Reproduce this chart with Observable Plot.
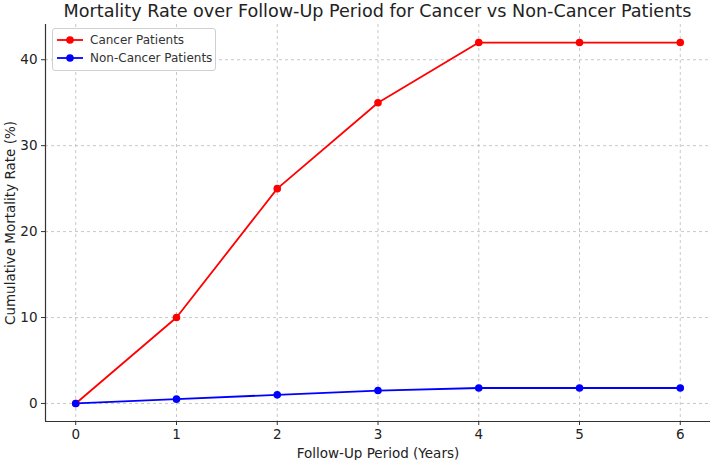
<!DOCTYPE html>
<html><head><meta charset="utf-8">
<script src="https://cdn.jsdelivr.net/npm/d3@7"></script>
<script src="https://cdn.jsdelivr.net/npm/@observablehq/plot@0.6"></script>
<style>
body{margin:0;background:#fff;font-family:"DejaVu Sans",sans-serif;}
#wrap{position:relative;width:720px;height:460px;overflow:hidden;}
#title{height:22px;line-height:22px;padding-left:45px;width:665px;text-align:center;font-size:17.6px;color:#222;white-space:nowrap;}
#legend{position:absolute;left:52px;top:28px;width:162px;height:41px;border:1px solid #d0d0d0;border-radius:3px;background:rgba(255,255,255,0.9);font-size:12px;color:#333;}
.row{position:absolute;left:4px;height:16px;line-height:16px;}
.row svg{position:absolute;left:0;top:0;}
.row span{position:absolute;left:33px;white-space:nowrap;}
</style></head>
<body><div id="wrap"><div id="title">Mortality Rate over Follow-Up Period for Cancer vs Non-Cancer Patients</div>
<div id="chart"></div>
<div id="legend"></div>
</div>
<script>
const years = [0, 1, 2, 3, 4, 5, 6];
const cancer = [0, 10, 25, 35, 42, 42, 42];
const nonCancer = [0, 0.5, 1.0, 1.5, 1.8, 1.8, 1.8];
const seriesNames = ["Cancer Patients", "Non-Cancer Patients"];
const seriesColors = ["#ff0000", "#0000ff"];
const xTicks = [0, 1, 2, 3, 4, 5, 6];
const yTicks = [0, 10, 20, 30, 40];
const xDomain = [-0.3, 6.3];
const yDomain = [-2.1, 44.1];

const data = [];
years.forEach((y, i) => {
  data.push({year: y, value: cancer[i], series: seriesNames[0]});
  data.push({year: y, value: nonCancer[i], series: seriesNames[1]});
});

const plot = Plot.plot({
  width: 720, height: 438,
  marginTop: 2, marginBottom: 39, marginLeft: 45, marginRight: 10,
  style: {fontFamily: "DejaVu Sans, sans-serif", fontSize: "13.5px", color: "#222", background: "#fff"},
  x: {domain: xDomain},
  y: {domain: yDomain},
  color: {domain: seriesNames, range: seriesColors},
  marks: [
    Plot.gridX(xTicks, {stroke: "#b0b0b0", strokeOpacity: 0.7, strokeDasharray: "3,3"}),
    Plot.gridY(yTicks, {stroke: "#b0b0b0", strokeOpacity: 0.7, strokeDasharray: "3,3"}),
    Plot.ruleX([xDomain[0]], {stroke: "#333", strokeWidth: 1.2}),
    Plot.ruleY([yDomain[0]], {stroke: "#333", strokeWidth: 1.2}),
    Plot.axisX({ticks: xTicks, tickFormat: "d", tickSize: 4, tickPadding: 4, stroke: "#333", label: "Follow-Up Period (Years)", labelAnchor: "center", labelArrow: "none", labelOffset: 36, fontSize: 13.5}),
    Plot.axisY({ticks: yTicks, tickFormat: "d", tickSize: 4, tickPadding: 4, stroke: "#333", label: "Cumulative Mortality Rate (%)", labelAnchor: "center", labelArrow: "none", labelOffset: 40, fontSize: 13.5}),
    Plot.line(data, {x: "year", y: "value", z: "series", stroke: "series", strokeWidth: 1.8}),
    Plot.dot(data, {x: "year", y: "value", fill: "series", r: 3.8})
  ]
});
document.getElementById("chart").appendChild(plot);

const legend = document.getElementById("legend");
seriesNames.forEach((name, i) => {
  const row = document.createElement("div");
  row.className = "row";
  row.style.top = (3 + i * 18) + "px";
  row.innerHTML = `<svg width="28" height="16"><line x1="0" y1="8" x2="26" y2="8" stroke="${seriesColors[i]}" stroke-width="1.8"/><circle cx="13" cy="8" r="3.8" fill="${seriesColors[i]}"/></svg><span>${name}</span>`;
  legend.appendChild(row);
});
</script></body></html>
